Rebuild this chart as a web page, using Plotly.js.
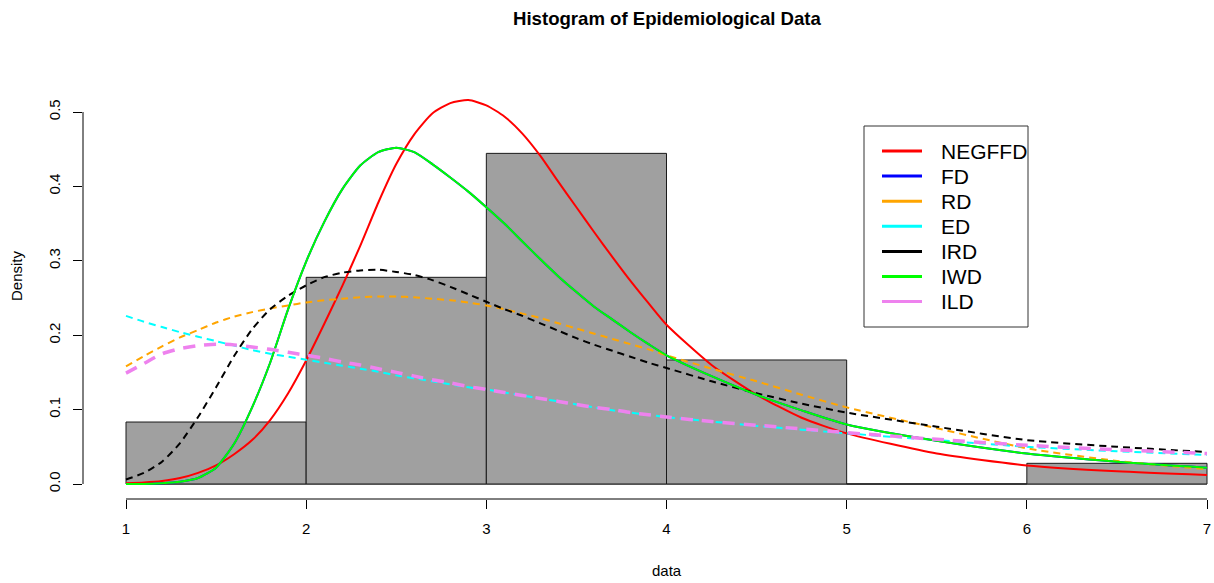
<!DOCTYPE html>
<html><head><meta charset="utf-8">
<script src="https://cdn.plot.ly/plotly-3.0.1.min.js"></script>
<style>html,body{margin:0;padding:0;background:#fff}#chart{width:1214px;height:583px}</style>
</head><body><div id="chart"></div>
<script>
// ---- histogram data ----
const binEdges   = [1, 2, 3, 4, 5, 6, 7];
const binDensity = [0.0833, 0.2778, 0.4444, 0.1667, 0, 0.0278];

// ---- fitted density curves ----
const xGrid  = [1.0, 1.1, 1.2, 1.3, 1.4, 1.5, 1.6, 1.7, 1.8, 1.9, 2.0, 2.1, 2.2, 2.3, 2.4, 2.5, 2.6, 2.7, 2.8, 2.9, 3.0, 3.1, 3.2, 3.3, 3.4, 3.5, 3.6, 3.7, 3.8, 3.9, 4.0, 4.25, 4.5, 4.75, 5.0, 5.5, 6.0, 6.5, 7.0];
const negffd = [0.001, 0.002, 0.004, 0.008, 0.015, 0.025, 0.040, 0.059, 0.086, 0.122, 0.166, 0.215, 0.266, 0.320, 0.378, 0.430, 0.470, 0.498, 0.512, 0.516, 0.509, 0.494, 0.471, 0.441, 0.406, 0.372, 0.338, 0.305, 0.273, 0.243, 0.214, 0.160, 0.120, 0.089, 0.068, 0.041, 0.025, 0.017, 0.012];
const fd     = [0.000, 0.000, 0.001, 0.003, 0.008, 0.022, 0.054, 0.103, 0.163, 0.235, 0.299, 0.352, 0.396, 0.428, 0.446, 0.452, 0.446, 0.430, 0.412, 0.393, 0.372, 0.350, 0.326, 0.302, 0.279, 0.258, 0.238, 0.221, 0.204, 0.188, 0.173, 0.145, 0.120, 0.099, 0.080, 0.058, 0.041, 0.030, 0.022];
const rd     = [0.158, 0.172, 0.185, 0.197, 0.207, 0.217, 0.225, 0.231, 0.236, 0.240, 0.244, 0.247, 0.249, 0.251, 0.252, 0.252, 0.251, 0.249, 0.247, 0.244, 0.240, 0.235, 0.229, 0.223, 0.216, 0.209, 0.202, 0.195, 0.188, 0.181, 0.173, 0.155, 0.138, 0.120, 0.103, 0.075, 0.048, 0.031, 0.020];
const ed     = [0.226, 0.218, 0.211, 0.204, 0.198, 0.192, 0.186, 0.180, 0.175, 0.171, 0.167, 0.163, 0.159, 0.155, 0.151, 0.146, 0.142, 0.138, 0.134, 0.130, 0.127, 0.123, 0.119, 0.115, 0.111, 0.107, 0.103, 0.099, 0.096, 0.093, 0.090, 0.084, 0.078, 0.073, 0.068, 0.059, 0.050, 0.044, 0.039];
const ird    = [0.006, 0.015, 0.030, 0.055, 0.090, 0.130, 0.172, 0.208, 0.235, 0.253, 0.267, 0.278, 0.284, 0.287, 0.288, 0.285, 0.281, 0.274, 0.265, 0.255, 0.245, 0.235, 0.226, 0.216, 0.206, 0.196, 0.187, 0.179, 0.171, 0.163, 0.156, 0.138, 0.122, 0.108, 0.096, 0.077, 0.059, 0.050, 0.043];
const iwd    = [0.000, 0.000, 0.001, 0.003, 0.008, 0.022, 0.054, 0.103, 0.163, 0.235, 0.299, 0.352, 0.396, 0.428, 0.446, 0.452, 0.446, 0.430, 0.412, 0.393, 0.372, 0.350, 0.326, 0.302, 0.279, 0.258, 0.238, 0.221, 0.204, 0.188, 0.173, 0.145, 0.120, 0.099, 0.080, 0.058, 0.041, 0.030, 0.022];
const ild    = [0.149, 0.162, 0.175, 0.182, 0.186, 0.188, 0.187, 0.184, 0.181, 0.177, 0.173, 0.169, 0.164, 0.160, 0.155, 0.150, 0.145, 0.140, 0.136, 0.131, 0.127, 0.123, 0.119, 0.115, 0.111, 0.107, 0.103, 0.100, 0.096, 0.093, 0.090, 0.084, 0.079, 0.074, 0.069, 0.060, 0.052, 0.046, 0.041];

const seriesNames  = ['NEGFFD', 'FD', 'RD', 'ED', 'IRD', 'IWD', 'ILD'];
const seriesValues = [negffd, fd, rd, ed, ird, iwd, ild];
const seriesColors = ['#ff0000', '#0000ff', '#ffa500', '#00ffff', '#000000', '#00ff00', '#ee82ee'];
const seriesDash   = ['solid', 'solid', '7px,5px', '7px,5px', '7px,5px', 'solid', '12px,9px'];
const seriesWidth  = [2, 2, 2, 2, 2, 2, 3.5];

const yTicks     = [0, 0.1, 0.2, 0.3, 0.4, 0.5];
const yTickText  = ['0.0', '0.1', '0.2', '0.3', '0.4', '0.5'];
const xTicks     = [1, 2, 3, 4, 5, 6, 7];

// ---- geometry (pixels) ----
const W = 1214, H = 583;
const M = {l: 83, r: 0, t: 47, b: 84};
const PW = W - M.l - M.r, PH = H - M.t - M.b;
const px2x = p => (p - M.l) / PW;
const py2y = p => (H - M.b - p) / PH;
const FONT = '"Liberation Sans", Arial, Helvetica, sans-serif';

const traces = [];
traces.push({
  type: 'bar',
  x: binDensity.map((_, i) => (binEdges[i] + binEdges[i + 1]) / 2),
  y: binDensity,
  width: binDensity.map((_, i) => binEdges[i + 1] - binEdges[i]),
  marker: {color: '#a0a0a0', line: {color: '#1a1a1a', width: 1}},
  hoverinfo: 'skip', showlegend: false
});
seriesNames.forEach((name, i) => {
  traces.push({
    type: 'scatter', mode: 'lines', name: name,
    x: xGrid, y: seriesValues[i],
    line: {color: seriesColors[i], width: seriesWidth[i], dash: seriesDash[i], shape: 'spline', smoothing: 0.6},
    hoverinfo: 'skip', showlegend: false
  });
});

const shapes = [];
// x axis line (covers tick range only)
shapes.push({type: 'line', xref: 'x', yref: 'paper', x0: xTicks[0], x1: xTicks[xTicks.length - 1], y0: 0, y1: 0,
  line: {color: '#000', width: 1}});
// y axis line
shapes.push({type: 'line', xref: 'paper', yref: 'y', x0: 0, x1: 0, y0: yTicks[0], y1: yTicks[yTicks.length - 1],
  line: {color: '#000', width: 1}});
// histogram baseline
shapes.push({type: 'line', xref: 'x', yref: 'y', x0: binEdges[0], x1: binEdges[binEdges.length - 1], y0: 0, y1: 0,
  line: {color: '#1a1a1a', width: 1}, layer: 'below'});

// legend box
const LG = {x0: 864, x1: 1028, y0: 126, y1: 327, lineX0: 882, lineX1: 922, textX: 939, row0: 151, rowStep: 25.1};
shapes.push({type: 'rect', xref: 'paper', yref: 'paper', x0: px2x(LG.x0), x1: px2x(LG.x1), y0: py2y(LG.y0), y1: py2y(LG.y1),
  line: {color: '#333', width: 1}, fillcolor: '#fff', layer: 'above'});
const annotations = [];
seriesNames.forEach((name, i) => {
  const yy = LG.row0 + i * LG.rowStep;
  shapes.push({type: 'line', xref: 'paper', yref: 'paper', x0: px2x(LG.lineX0), x1: px2x(LG.lineX1), y0: py2y(yy), y1: py2y(yy),
    line: {color: seriesColors[i], width: 3}, layer: 'above'});
  annotations.push({xref: 'paper', yref: 'paper', x: px2x(LG.textX), y: py2y(yy), text: name, showarrow: false,
    xanchor: 'left', yanchor: 'middle', font: {family: FONT, size: 21, color: '#000'}});
});

// titles
annotations.push({xref: 'paper', yref: 'paper', x: px2x(667.5), y: py2y(18), text: '<b>Histogram of Epidemiological Data</b>',
  showarrow: false, xanchor: 'center', yanchor: 'middle', font: {family: FONT, size: 18.6, color: '#000'}});
annotations.push({xref: 'paper', yref: 'paper', x: px2x(666.5), y: py2y(570), text: 'data',
  showarrow: false, xanchor: 'center', yanchor: 'middle', font: {family: FONT, size: 15, color: '#000'}});
annotations.push({xref: 'paper', yref: 'paper', x: px2x(16), y: py2y(276), text: 'Density', textangle: -90,
  showarrow: false, xanchor: 'center', yanchor: 'middle', font: {family: FONT, size: 15, color: '#000'}});

// axis ranges so that x=1 -> 126px, x=7 -> 1207px, y=0 -> 484px, y=0.5 -> 112px
const xPer = (1207 - 126) / 6;
const yPer = (484 - 112) / 0.5;
const xRange = [1 + (M.l - 126) / xPer, 1 + (W - M.r - 126) / xPer];
const yRange = [(484 - (H - M.b)) / yPer, (484 - M.t) / yPer];

const layout = {
  width: W, height: H, margin: M,
  paper_bgcolor: '#fff', plot_bgcolor: '#fff',
  showlegend: false, bargap: 0,
  font: {family: FONT, size: 15, color: '#000'},
  xaxis: {range: xRange, tickvals: xTicks, ticktext: xTicks.map(String), ticks: 'outside', ticklen: 9, tickwidth: 1, tickcolor: '#000',
    showgrid: false, zeroline: false, showline: false, ticklabelstandoff: 7, tickfont: {family: FONT, size: 15}},
  yaxis: {range: yRange, tickvals: yTicks, ticktext: yTickText, ticks: 'outside', ticklen: 9, tickwidth: 1, tickcolor: '#000',
    tickangle: -90, showgrid: false, zeroline: false, showline: false, ticklabelstandoff: 7, tickfont: {family: FONT, size: 15}},
  shapes: shapes, annotations: annotations
};

Plotly.newPlot('chart', traces, layout, {displayModeBar: false, staticPlot: true});
</script></body></html>
